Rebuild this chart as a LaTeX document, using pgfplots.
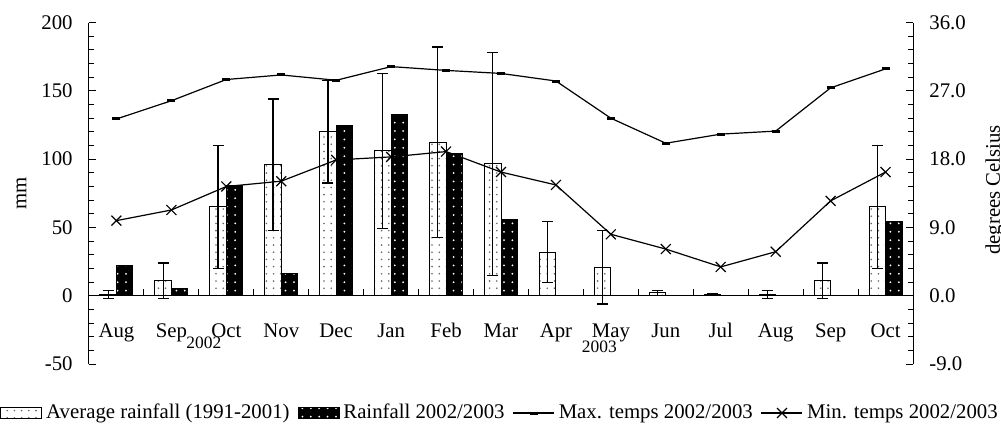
\documentclass[border=0pt]{standalone}
\usepackage{pgfplots}
\pgfplotsset{compat=1.18}
\usepackage{pgfplotstable}
\usepackage{fontspec}
\setmainfont{Liberation Serif}
\usetikzlibrary{patterns}

% sparse dots for the bars
\pgfdeclarepatternformonly{avgdots}{\pgfqpoint{-1pt}{-1pt}}{\pgfqpoint{1pt}{1pt}}{\pgfqpoint{3.6pt}{3.6pt}}%
  {\pgfpathcircle{\pgfqpoint{0pt}{0pt}}{0.45pt}\pgfusepath{fill}}
\pgfdeclarepatternformonly{raindots}{\pgfqpoint{-1pt}{-1pt}}{\pgfqpoint{1pt}{1pt}}{\pgfqpoint{4.2pt}{4.2pt}}%
  {\pgfpathcircle{\pgfqpoint{0pt}{0pt}}{0.5pt}\pgfusepath{fill}}

\pgfplotsset{
  leglineimg/.style={legend image code/.code={\draw[mark repeat=2, mark phase=2, ##1]
    plot coordinates {(0pt,0pt) (10.25pt,0pt) (20.5pt,0pt)};}},
}

% x = month index, avg/err = average rainfall 1991-2001, rain = 2002/2003 (mm)
% tmax/tmin in degrees Celsius
\pgfplotstableread{
x  avg   err   rain   tmax  tmin
0  1     3     22     23.3  9.9
1  11    13    5.4    25.7  11.3
2  65    45    81     28.5  14.4
3  96    48    16     29.1  15.1
4  120   37.5  124.4  28.4  17.9
5  106   57    133    30.2  18.3
6  112.5 69.7  104.4  29.7  19.0
7  96.5  81.5  55.8   29.3  16.3
8  32    22.6  nan    28.3  14.6
9  21    27    nan    23.4  8.1
10 2     2     nan    20.1  6.15
11 1     0.7   nan    21.3  3.8
12 1     3     nan    21.7  5.8
13 11    13    nan    27.4  12.5
14 65    45    54     29.9  16.3
}\climate

\begin{document}
\fontsize{10.4}{12.5}\selectfont
\begin{tikzpicture}
\pgfplotsset{
  every axis/.append style={
    width=412pt, height=170.7pt, scale only axis,
    xmin=-0.5, xmax=14.5,
    axis line style={line width=0.5pt},
    tick style={black, line width=0.5pt},
    major tick length=3.5pt, minor tick length=2.3pt,
    tick align=inside,
    /pgf/number format/assume math mode=true,
  },
}
\begin{axis}[
  ymin=-50, ymax=200,
  axis y line*=left, axis x line*=middle,
  ytick={-50,0,...,200}, minor y tick num=4,
  yticklabel style={inner sep=0pt, anchor=east, xshift=-8pt},
  xtick={0.5,1.5,...,13.5}, xticklabels={},
  xtick align=inside,
  extra x ticks={0,...,14},
  extra x tick labels={Aug,Sep,Oct,Nov,Dec,Jan,Feb,Mar,Apr,May,Jun,Jul,Aug,Sep,Oct},
  extra x tick style={tick style={draw=none}},
  xticklabel style={anchor=base, yshift=-21pt},
  ylabel={mm},
  ylabel style={at={(axis description cs:-0.082,0.5)}, anchor=center},
]
\addplot[ybar, bar width=8.25pt, bar shift=-4.125pt, draw=black, line width=0.5pt, fill=white,
  postaction={pattern=avgdots, pattern color=black!60}]
  table[x=x, y=avg]{\climate};
\addplot[ybar, bar width=8.25pt, bar shift=4.125pt, draw=black, line width=0.5pt, fill=black,
  postaction={pattern=raindots, pattern color=white}]
  table[x=x, y=rain]{\climate};
% standard deviation of the long-term average, at the middle of the dotted bar
\addplot[draw=none, mark=none, forget plot,
  error bars/.cd, y dir=both, y explicit,
  error bar style={draw=black, solid, line width=0.6pt},
  error mark options={rotate=90, draw=black, mark size=2.75pt, line width=0.6pt}]
  table[x expr=\thisrow{x}-0.15, y=avg, y error=err]{\climate};
\node[font=\fontsize{8.7}{10}\selectfont] at (axis cs:1.59,-34.4) {2002};
\node[font=\fontsize{8.7}{10}\selectfont] at (axis cs:8.79,-37.3) {2003};
\end{axis}

\begin{axis}[
  ymin=-9, ymax=36,
  axis y line*=right, axis x line=none,
  ytick={-9,0,...,36}, minor y tick num=4,
  yticklabel style={inner sep=0pt, anchor=west, xshift=8pt,
    /pgf/number format/.cd, fixed, fixed zerofill, precision=1},
  ylabel={degrees Celsius},
  ylabel style={at={(axis description cs:1.0874,0.51)}, anchor=north, inner sep=0pt},
  legend style={draw=none, fill=none, at={(0.5,0)}, anchor=center, yshift=-24.5pt,
    legend columns=-1, font=\fontsize{10.4}{12.5}\selectfont,
    /tikz/every even column/.append style={column sep=2pt},
    nodes={inner sep=2pt}},
  legend cell align=left,
]
\addlegendimage{legend image code/.code={
  \draw[black, line width=0.5pt, fill=white, postaction={pattern=avgdots, pattern color=black!60}]
    (0pt,-2.75pt) rectangle (20.5pt,2.75pt);}}
\addlegendentry{Average rainfall (1991-2001)}
\addlegendimage{legend image code/.code={
  \draw[black, fill=black, postaction={pattern=raindots, pattern color=white}]
    (0pt,-2.6pt) rectangle (20.5pt,2.6pt);}}
\addlegendentry{Rainfall 2002/2003}
\addplot[black, line width=0.6pt, mark=-, mark options={line width=1.5pt, mark size=2pt}, leglineimg]
  table[x=x, y=tmax]{\climate};
\addlegendentry{Max. temps 2002/2003}
\addplot[black, line width=0.6pt, mark=x, mark options={line width=0.6pt, mark size=3.5pt}, leglineimg]
  table[x=x, y=tmin]{\climate};
\addlegendentry{Min. temps 2002/2003}
\end{axis}
\pgfresetboundingbox
\path[use as bounding box] (-44.5pt,-30.5pt) rectangle (456pt,182pt);
\end{tikzpicture}
\end{document}
